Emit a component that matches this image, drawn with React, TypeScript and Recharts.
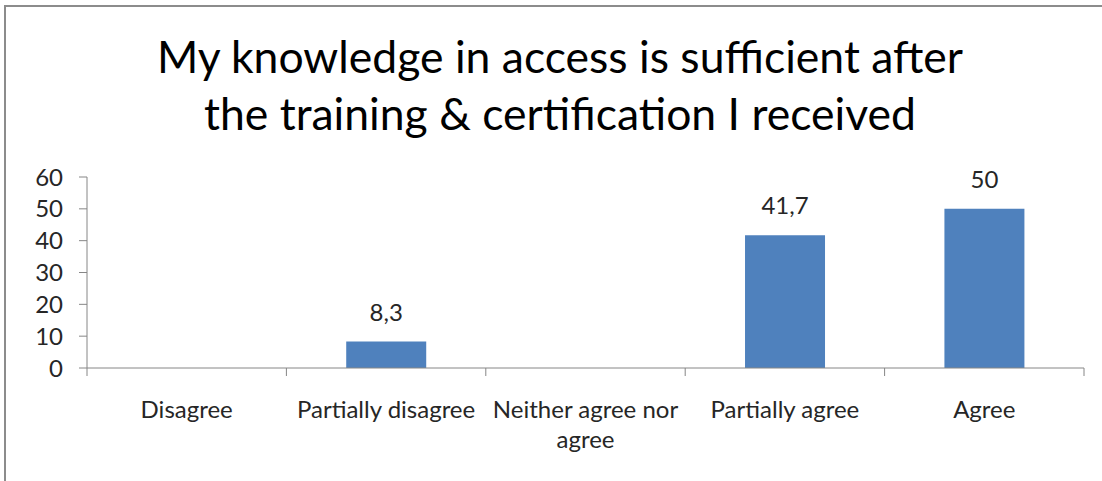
import { BarChart, Bar, XAxis, YAxis, LabelList } from 'recharts';

const categories = ['Disagree', 'Partially disagree', 'Neither agree nor\nagree', 'Partially agree', 'Agree'];
const percentages: (number | null)[] = [null, 8.3, null, 41.7, 50];
const yTicks = [0, 10, 20, 30, 40, 50, 60];

const rows = categories.map((name, i) => ({ name, value: percentages[i] }));

const FONT = 'Lato, "Open Sans", sans-serif';
const AXIS = '#868686';
const INK = '#262626';

const CategoryTick = (props: any) => {
  const { x, y, payload, index, visibleTicksCount } = props;
  const half = payload?.offset ?? 0;
  const lines = String(payload.value).split('\n');
  return (
    <g>
      <line x1={x - half} x2={x - half} y1={y - 8} y2={y} stroke={AXIS} />
      {index === visibleTicksCount - 1 && (
        <line x1={x + half} x2={x + half} y1={y - 8} y2={y} stroke={AXIS} />
      )}
      <text x={x} y={y + 42} textAnchor="middle" style={{ fontFamily: FONT, fontSize: 24, fill: INK }}>
        {lines.map((ln, i) => (
          <tspan key={i} x={x} dy={i === 0 ? 0 : 30}>{ln}</tspan>
        ))}
      </text>
    </g>
  );
};

export default function App() {
  return (
    <div style={{ position: 'absolute', left: 0, top: 0, width: 1102, height: 481, overflow: 'hidden', background: '#fff' }}>
      <div style={{ position: 'absolute', left: 4, top: 5, width: 1200, height: 600, borderTop: '2px solid #8c8c8c', borderLeft: '2px solid #8c8c8c' }} />
      <div style={{ position: 'absolute', left: 0, top: 27, width: 1120, textAlign: 'center', fontFamily: FONT, fontSize: 44.5, lineHeight: '57px', color: '#000' }}>
        My knowledge in access is sufficient after<br />the training &amp; certification I received
      </div>
      <div style={{ position: 'absolute', left: 0, top: 0 }}>
        <BarChart width={1102} height={481} data={rows} margin={{ top: 177, right: 18, bottom: 0, left: 0 }} barCategoryGap="30%">
          <XAxis dataKey="name" height={113} axisLine={{ stroke: AXIS }} tickLine={false} interval={0} tick={<CategoryTick />} />
          <YAxis width={87} domain={[0, 60]} ticks={yTicks} interval={0} axisLine={{ stroke: AXIS }} tickLine={{ stroke: AXIS }} tickSize={8} tickMargin={16}
            tick={{ fontFamily: FONT, fontSize: 24, fill: INK }} />
          <Bar dataKey="value" fill="#4F81BD" isAnimationActive={false}>
            <LabelList dataKey="value" position="top" offset={21}
              formatter={(v: any) => (v == null ? '' : String(v).replace('.', ','))}
              style={{ fontFamily: FONT, fontSize: 24, fill: INK }} />
          </Bar>
        </BarChart>
      </div>
    </div>
  );
}
